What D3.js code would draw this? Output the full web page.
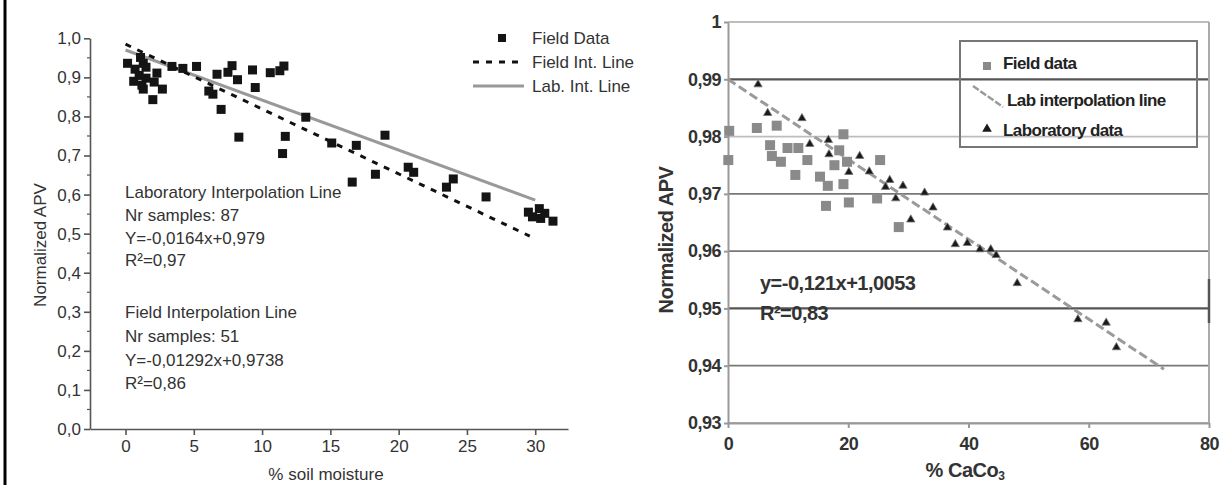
<!DOCTYPE html>
<html>
<head>
<meta charset="utf-8">
<script src="https://cdn.jsdelivr.net/npm/d3@7"></script>
<style>
  body { margin: 0; background: #fff; }
  svg { display: block; font-family: "Liberation Sans", Arial, sans-serif; }
</style>
</head>
<body>
<div id="chart"></div>
<script>
// ---- left panel: APV vs soil moisture ----
var moisture = [0.15, 0.7, 0.6, 1.0, 1.1, 1.3, 1.5, 1.5, 1.2, 1.3, 2.1, 2.3, 2.0, 2.7, 3.4, 4.2, 5.2,
  6.1, 6.4, 6.7, 7.0, 7.5, 7.8, 8.2, 8.3, 9.3, 9.5, 10.6, 11.3, 11.6, 11.5, 11.7, 13.2,
  15.1, 16.9, 19.0, 18.3, 16.6, 20.7, 21.1, 24.0, 23.5, 26.4,
  29.5, 29.8, 30.3, 30.4, 30.7, 31.3];
var moistureApv = [0.936, 0.921, 0.89, 0.905, 0.951, 0.936, 0.926, 0.898, 0.88, 0.87, 0.888, 0.911, 0.843, 0.87, 0.928, 0.923, 0.928,
  0.865, 0.857, 0.908, 0.818, 0.913, 0.93, 0.894, 0.747, 0.919, 0.874, 0.912, 0.917, 0.929, 0.705, 0.749, 0.798,
  0.732, 0.726, 0.752, 0.652, 0.632, 0.670, 0.657, 0.640, 0.619, 0.594,
  0.555, 0.543, 0.564, 0.539, 0.552, 0.532];
var moistureTicks = [0, 5, 10, 15, 20, 25, 30];
var apvTicksLeft = [0, 0.1, 0.2, 0.3, 0.4, 0.5, 0.6, 0.7, 0.8, 0.9, 1.0];
var fieldIntLine = { slope: -0.0166, intercept: 0.985, from: 0, to: 29.6 };
var labIntLine = { slope: -0.0128, intercept: 0.970, from: 0, to: 30 };
var leftNotes = ["Laboratory Interpolation Line", "Nr samples: 87", "Y=-0,0164x+0,979", "R²=0,97",
  "Field Interpolation Line", "Nr samples: 51", "Y=-0,01292x+0,9738", "R²=0,86"];
var leftLegend = ["Field Data", "Field Int. Line", "Lab. Int. Line"];

// ---- right panel: APV vs CaCO3 ----
var caco3Field = [0.2, 0.05, 4.8, 8.1, 7.0, 7.3, 8.8, 9.9, 11.7, 11.2, 13.2, 15.3, 16.6, 16.3, 17.7, 18.5, 19.2, 19.2, 19.8, 20.1, 24.8, 25.3, 28.4];
var apvField = [0.9810, 0.9759, 0.9815, 0.9819, 0.9785, 0.9766, 0.9756, 0.9780, 0.9780, 0.9733, 0.9759, 0.9730, 0.9714, 0.9679, 0.9750, 0.9776, 0.9804, 0.9717, 0.9756, 0.9685, 0.9692, 0.9759, 0.9642];
var caco3Lab = [5.0, 6.6, 12.3, 13.6, 16.7, 16.8, 21.9, 20.1, 23.5, 26.9, 26.2, 29.1, 27.9, 32.7, 34.1, 30.4,
  36.5, 37.8, 39.8, 41.9, 43.7, 44.6, 48.1, 58.2, 62.9, 64.6];
var apvLab = [0.9891, 0.9841, 0.9832, 0.9787, 0.9794, 0.9769, 0.9766, 0.9738, 0.9739, 0.9724, 0.9712, 0.9714, 0.9692, 0.9702, 0.9676, 0.9655,
  0.9641, 0.9612, 0.9614, 0.9603, 0.9603, 0.9593, 0.9544, 0.9481, 0.9475, 0.9432];
var caco3Ticks = [0, 20, 40, 60, 80];
var apvTicksRight = [0.93, 0.94, 0.95, 0.96, 0.97, 0.98, 0.99, 1];
var labInterpLine = { slope: -0.000698, intercept: 0.99, from: 0, to: 72.5 };
var rightNotes = ["y=-0,121x+1,0053", "R²=0,83"];
var rightLegend = ["Field data", "Lab interpolation line", "Laboratory data"];

var svg = d3.select("#chart").append("svg")
  .attr("width", 1223).attr("height", 485);

// outer frame line on the left edge
svg.append("line").attr("x1", 5).attr("x2", 5).attr("y1", 0).attr("y2", 485)
  .attr("stroke", "#000").attr("stroke-width", 3);

// ================= LEFT =================
var xL = d3.scaleLinear().domain([-2.6, 32.4]).range([90, 568]);
var yL = d3.scaleLinear().domain([0, 1]).range([429, 38.3]);
var comma = function (d) { return d3.format(".1f")(d).replace(".", ","); };

var left = svg.append("g");

var axL = left.append("g").attr("transform", "translate(90,0)")
  .call(d3.axisLeft(yL).tickValues(apvTicksLeft).tickFormat(comma).tickSize(6).tickSizeOuter(0));
var axLb = left.append("g").attr("transform", "translate(0,429)")
  .call(d3.axisBottom(xL).tickValues(moistureTicks).tickSize(6).tickSizeOuter(0));
// minor ticks on the y axis
left.append("g").selectAll("line")
  .data(apvTicksLeft.slice(0, -1))
  .join("line")
  .attr("x1", 87).attr("x2", 90)
  .attr("y1", function (d) { return yL(d + 0.05); })
  .attr("y2", function (d) { return yL(d + 0.05); })
  .attr("stroke", "#555").attr("stroke-width", 1.2);

[axL, axLb].forEach(function (a) {
  a.select(".domain").attr("stroke", "#555").attr("stroke-width", 1.6);
  a.selectAll(".tick line").attr("stroke", "#555").attr("stroke-width", 1.6);
  a.selectAll(".tick text").attr("fill", "#333").attr("font-size", 17)
    .attr("font-family", "Liberation Sans, Arial, sans-serif");
});
axL.selectAll(".tick text").attr("x", -9);
axLb.selectAll(".tick text").attr("y", 11);

left.append("text").attr("transform", "translate(46,245) rotate(-90)")
  .attr("text-anchor", "middle").attr("font-size", 17).attr("fill", "#333")
  .text("Normalized APV");
left.append("text").attr("x", 326).attr("y", 480)
  .attr("text-anchor", "middle").attr("font-size", 17).attr("fill", "#333")
  .text("% soil moisture");

function lineOf(spec, xs, ys) {
  return d3.line().x(function (d) { return xs(d); })
    .y(function (d) { return ys(spec.intercept + spec.slope * d); })([spec.from, spec.to]);
}
left.append("path").attr("d", lineOf(labIntLine, xL, yL))
  .attr("stroke", "#999").attr("stroke-width", 3).attr("fill", "none");
left.append("path").attr("d", lineOf(fieldIntLine, xL, yL))
  .attr("stroke", "#111").attr("stroke-width", 3).attr("stroke-dasharray", "6,7").attr("fill", "none");

left.append("g").selectAll("rect")
  .data(moisture)
  .join("rect")
  .attr("x", function (d) { return xL(d) - 4.5; })
  .attr("y", function (d, i) { return yL(moistureApv[i]) - 4.5; })
  .attr("width", 9).attr("height", 9)
  .attr("fill", "#141414");

var noteY = [192, 215, 238, 260, 312, 336, 360, 383];
left.append("g").selectAll("text")
  .data(leftNotes)
  .join("text")
  .attr("x", 125).attr("y", function (d, i) { return noteY[i]; })
  .attr("dy", "0.35em").attr("font-size", 17).attr("fill", "#333")
  .text(function (d) { return d; });

var lg = left.append("g");
lg.append("rect").attr("x", 498).attr("y", 34).attr("width", 8).attr("height", 8).attr("fill", "#141414");
lg.append("line").attr("x1", 473).attr("x2", 523).attr("y1", 62).attr("y2", 62)
  .attr("stroke", "#111").attr("stroke-width", 3).attr("stroke-dasharray", "6,7");
lg.append("line").attr("x1", 473).attr("x2", 524).attr("y1", 86).attr("y2", 86)
  .attr("stroke", "#999").attr("stroke-width", 3);
lg.selectAll("text").data(leftLegend).join("text")
  .attr("x", 532).attr("y", function (d, i) { return 38 + i * 24; })
  .attr("dy", "0.35em").attr("font-size", 17).attr("fill", "#333")
  .text(function (d) { return d; });

// ================= RIGHT =================
var xR = d3.scaleLinear().domain([0, 80]).range([728, 1209]);
var yR = d3.scaleLinear().domain([0.93, 1]).range([423, 22]);
var right = svg.append("g").attr("font-weight", "bold");

function gridColor(d) {
  var k = Math.round(d * 100);
  if (k === 100 || k === 98) return "#bdbdbd";
  if (k === 93) return "#b0b0b0";
  if (k === 99 || k === 95) return "#555";
  return "#777";
}
right.append("g").selectAll("line")
  .data(apvTicksRight)
  .join("line")
  .attr("x1", 728).attr("x2", 1209)
  .attr("y1", function (d) { return yR(d); }).attr("y2", function (d) { return yR(d); })
  .attr("stroke", gridColor)
  .attr("stroke-width", function (d) { return Math.round(d * 100) === 95 || Math.round(d * 100) === 99 ? 2.2 : 1.8; });
// right border
right.append("line").attr("x1", 1209).attr("x2", 1209).attr("y1", yR(1)).attr("y2", yR(0.93))
  .attr("stroke", "#aaa").attr("stroke-width", 2);
right.append("line").attr("x1", 1209).attr("x2", 1209).attr("y1", 279).attr("y2", 323)
  .attr("stroke", "#555").attr("stroke-width", 2.5);

var axR = right.append("g").attr("transform", "translate(728,0)")
  .call(d3.axisLeft(yR).tickValues(apvTicksRight)
    .tickFormat(function (d) { return d === 1 ? "1" : d3.format(".2f")(d).replace(".", ","); })
    .tickSize(4).tickSizeOuter(0));
var axRb = right.append("g").attr("transform", "translate(0,423)")
  .call(d3.axisBottom(xR).tickValues(caco3Ticks).tickSize(5).tickSizeOuter(0));
[axR, axRb].forEach(function (a) {
  a.select(".domain").attr("stroke", "#999").attr("stroke-width", 2);
  a.selectAll(".tick line").attr("stroke", "#999").attr("stroke-width", 2);
  a.selectAll(".tick text").attr("fill", "#333").attr("font-size", 18).attr("font-weight", "bold")
    .attr("letter-spacing", -0.5)
    .attr("font-family", "Liberation Sans, Arial, sans-serif");
});
axR.selectAll(".tick text").attr("x", -7);
axRb.selectAll(".tick text").attr("y", 14);

right.append("text").attr("transform", "translate(673,240) rotate(-90)")
  .attr("text-anchor", "middle").attr("font-size", 20).attr("fill", "#333").attr("letter-spacing", -0.5)
  .text("Normalized APV");
var xt = right.append("text").attr("x", 965).attr("y", 477)
  .attr("text-anchor", "middle").attr("font-size", 20).attr("fill", "#333").attr("letter-spacing", -0.5);
xt.append("tspan").text("% CaCo");
xt.append("tspan").attr("font-size", 12).attr("dy", 3).text("3");

right.append("path").attr("d", lineOf(labInterpLine, xR, yR))
  .attr("stroke", "#9a9a9a").attr("stroke-width", 3).attr("stroke-dasharray", "9,4").attr("fill", "none");

right.append("g").selectAll("rect")
  .data(caco3Field)
  .join("rect")
  .attr("x", function (d) { return xR(d) - 5; })
  .attr("y", function (d, i) { return yR(apvField[i]) - 5; })
  .attr("width", 10).attr("height", 10)
  .attr("fill", "#8a8a8a");

right.append("g").selectAll("path")
  .data(caco3Lab)
  .join("path")
  .attr("transform", function (d, i) { return "translate(" + xR(d) + "," + yR(apvLab[i]) + ")"; })
  .attr("d", d3.symbol().type(d3.symbolTriangle).size(30))
  .attr("fill", "#1a1a1a").attr("stroke", "#777").attr("stroke-width", 0.8);

right.append("g").selectAll("text")
  .data(rightNotes)
  .join("text")
  .attr("x", 760).attr("y", function (d, i) { return 283 + i * 30; })
  .attr("dy", "0.35em").attr("font-size", 20).attr("fill", "#333").attr("letter-spacing", -0.5)
  .text(function (d) { return d; });

// legend
var lgR = right.append("g");
lgR.append("rect").attr("x", 960).attr("y", 41).attr("width", 237).attr("height", 106)
  .attr("fill", "none").attr("stroke", "#777").attr("stroke-width", 2);
lgR.append("rect").attr("x", 983).attr("y", 62).attr("width", 8).attr("height", 8).attr("fill", "#8a8a8a");
lgR.append("line").attr("x1", 973).attr("y1", 86).attr("x2", 1003).attr("y2", 107)
  .attr("stroke", "#9a9a9a").attr("stroke-width", 2.5).attr("stroke-dasharray", "7,2");
lgR.append("path").attr("transform", "translate(987,129)")
  .attr("d", d3.symbol().type(d3.symbolTriangle).size(40)).attr("fill", "#1a1a1a");
lgR.selectAll("text").data(rightLegend).join("text")
  .attr("x", function (d, i) { return i === 1 ? 1007 : 1003; })
  .attr("y", function (d, i) { return [63, 100, 130][i]; })
  .attr("dy", "0.35em").attr("font-size", 17).attr("fill", "#222").attr("letter-spacing", -0.6)
  .text(function (d) { return d; });
</script>
</body>
</html>
